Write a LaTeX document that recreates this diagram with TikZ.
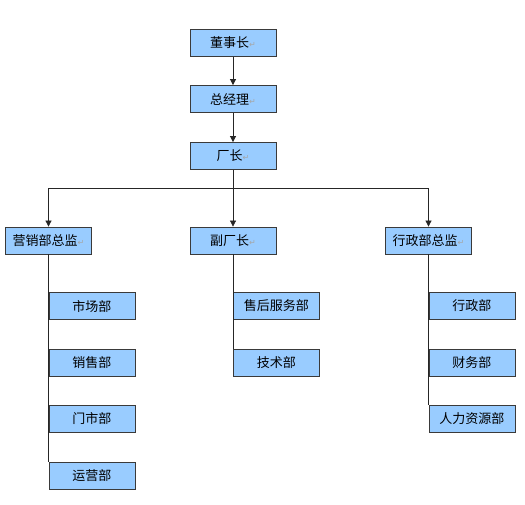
\documentclass[tikz,border=0pt]{standalone}
\usepackage{fontspec}
\setmainfont{Noto Sans CJK SC}
\newfontfamily\symfont{DejaVu Sans}
\usetikzlibrary{arrows.meta,shadows}
\definecolor{boxblue}{HTML}{99CCFF}
\definecolor{boxline}{HTML}{3A3A3A}
\newcommand{\rmark}{{\symfont\color{gray!70}\fontsize{8}{8}\selectfont ↵}}
\tikzset{
  orgbox/.style={draw=boxline, line width=0.8pt, fill=boxblue, minimum width=86pt, minimum height=27pt, inner sep=0pt, font=\fontsize{13}{13}\selectfont,
    drop shadow={shadow xshift=0.8pt, shadow yshift=-0.8pt, fill=black!60, opacity=1}},
  conn/.style={draw=black!85, line width=0.7pt},
  arr/.style={conn, -{Triangle[width=6pt,length=6pt]}}
}
\begin{document}
\begin{tikzpicture}[x=1pt,y=-1pt]
\useasboundingbox (0,0) rectangle (525,504);
% top chain
\node[orgbox] (dsz) at (233,43) {董事长\rmark};
\node[orgbox] (zjl) at (233,99) {总经理\rmark};
\node[orgbox] (cz) at (233,156) {厂长\rmark};
% second level
\node[orgbox] (yx) at (48.5,240.5) {营销部总监\rmark};
\node[orgbox] (fcz) at (233,240.5) {副厂长\rmark};
\node[orgbox] (xz) at (428.5,240.5) {行政部总监\rmark};
% children
\node[orgbox, anchor=west] (yx1) at (48.5,306) {市场部};
\node[orgbox, anchor=west] (yx2) at (48.5,362.5) {销售部};
\node[orgbox, anchor=west] (yx3) at (48.5,419) {门市部};
\node[orgbox, anchor=west] (yx4) at (48.5,476) {运营部};
\node[orgbox, anchor=west] (fc1) at (233,306) {售后服务部};
\node[orgbox, anchor=west] (fc2) at (233,362.5) {技术部};
\node[orgbox, anchor=west] (xz1) at (428.5,306) {行政部};
\node[orgbox, anchor=west] (xz2) at (428.5,362.5) {财务部};
\node[orgbox, anchor=west] (xz3) at (428.5,419) {人力资源部};
% connectors
\coordinate (bus) at (233,188);
\draw[arr] (dsz.south) -- (zjl.north);
\draw[arr] (zjl.south) -- (cz.north);
\draw[conn] (cz.south) -- (bus);
\draw[arr] (bus) -- (fcz.north);
\draw[arr] (bus) -| (yx.north);
\draw[arr] (bus) -| (xz.north);
\draw[conn] (yx.south) -- (yx4.north west);
\draw[conn] (fcz.south) -- (fc2.north west);
\draw[conn] (xz.south) -- (xz3.north west);
\end{tikzpicture}
\end{document}
